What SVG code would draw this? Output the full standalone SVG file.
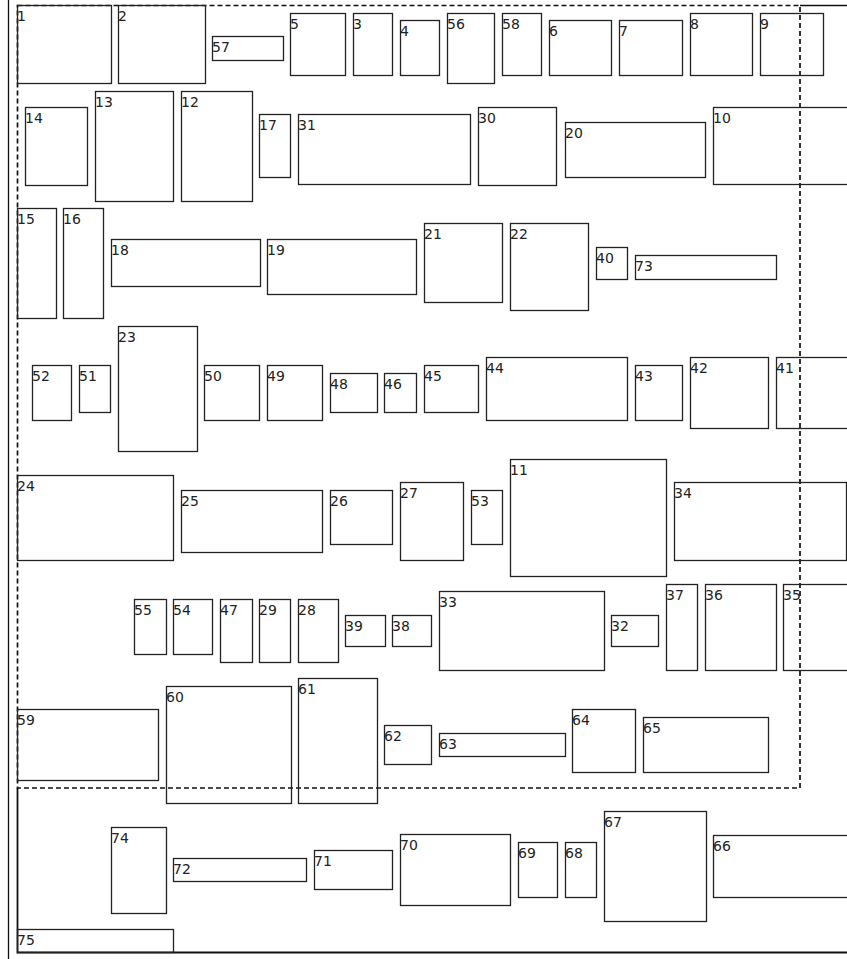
<svg xmlns="http://www.w3.org/2000/svg" width="847" height="959" viewBox="0 0 847 959">
<style>
.b{fill:none;stroke:#222;stroke-width:1.3}
.t{font-family:"DejaVu Sans","Liberation Sans",sans-serif;font-size:14px;fill:#222}
.f{fill:none;stroke:#111;stroke-width:1.3}
.d{fill:none;stroke:#111;stroke-width:1.7;stroke-dasharray:5 3}
</style>
<rect width="847" height="959" fill="#fff"/>
<g id="frame">
<line class="f" x1="8.5" y1="0" x2="8.5" y2="959"/>
<line class="f" x1="800" y1="5.5" x2="847" y2="5.5"/>
<polyline class="f" points="17.5,788 17.5,952.5 847,952.5" style="stroke-width:1.8"/>
<rect class="d" x="17.5" y="5.5" width="782.5" height="782.5"/>
</g>
<g id="connectors"/>
<g id="n1"><rect class="b" x="17.5" y="5.5" width="94" height="78"/><text class="t" x="17" y="21">1</text></g>
<g id="n2"><rect class="b" x="118.5" y="5.5" width="87" height="78"/><text class="t" x="118" y="21">2</text></g>
<g id="n57"><rect class="b" x="212.5" y="36.5" width="71" height="24"/><text class="t" x="212" y="52">57</text></g>
<g id="n5"><rect class="b" x="290.5" y="13.5" width="55" height="62"/><text class="t" x="290" y="29">5</text></g>
<g id="n3"><rect class="b" x="353.5" y="13.5" width="39" height="62"/><text class="t" x="353" y="29">3</text></g>
<g id="n4"><rect class="b" x="400.5" y="20.5" width="39" height="55"/><text class="t" x="400" y="36">4</text></g>
<g id="n56"><rect class="b" x="447.5" y="13.5" width="47" height="70"/><text class="t" x="447" y="29">56</text></g>
<g id="n58"><rect class="b" x="502.5" y="13.5" width="39" height="62"/><text class="t" x="502" y="29">58</text></g>
<g id="n6"><rect class="b" x="549.5" y="20.5" width="62" height="55"/><text class="t" x="549" y="36">6</text></g>
<g id="n7"><rect class="b" x="619.5" y="20.5" width="63" height="55"/><text class="t" x="619" y="36">7</text></g>
<g id="n8"><rect class="b" x="690.5" y="13.5" width="62" height="62"/><text class="t" x="690" y="29">8</text></g>
<g id="n9"><rect class="b" x="760.5" y="13.5" width="63" height="62"/><text class="t" x="760" y="29">9</text></g>
<g id="n14"><rect class="b" x="25.5" y="107.5" width="62" height="78"/><text class="t" x="25" y="123">14</text></g>
<g id="n13"><rect class="b" x="95.5" y="91.5" width="78" height="110"/><text class="t" x="95" y="107">13</text></g>
<g id="n12"><rect class="b" x="181.5" y="91.5" width="71" height="110"/><text class="t" x="181" y="107">12</text></g>
<g id="n17"><rect class="b" x="259.5" y="114.5" width="31" height="63"/><text class="t" x="259" y="130">17</text></g>
<g id="n31"><rect class="b" x="298.5" y="114.5" width="172" height="70"/><text class="t" x="298" y="130">31</text></g>
<g id="n30"><rect class="b" x="478.5" y="107.5" width="78" height="78"/><text class="t" x="478" y="123">30</text></g>
<g id="n20"><rect class="b" x="565.5" y="122.5" width="140" height="55"/><text class="t" x="565" y="138">20</text></g>
<g id="n10"><rect class="b" x="713.5" y="107.5" width="140" height="77"/><text class="t" x="713" y="123">10</text></g>
<g id="n15"><rect class="b" x="17.5" y="208.5" width="39" height="110"/><text class="t" x="17" y="224">15</text></g>
<g id="n16"><rect class="b" x="63.5" y="208.5" width="40" height="110"/><text class="t" x="63" y="224">16</text></g>
<g id="n18"><rect class="b" x="111.5" y="239.5" width="149" height="47"/><text class="t" x="111" y="255">18</text></g>
<g id="n19"><rect class="b" x="267.5" y="239.5" width="149" height="55"/><text class="t" x="267" y="255">19</text></g>
<g id="n21"><rect class="b" x="424.5" y="223.5" width="78" height="79"/><text class="t" x="424" y="239">21</text></g>
<g id="n22"><rect class="b" x="510.5" y="223.5" width="78" height="87"/><text class="t" x="510" y="239">22</text></g>
<g id="n40"><rect class="b" x="596.5" y="247.5" width="31" height="32"/><text class="t" x="596" y="263">40</text></g>
<g id="n73"><rect class="b" x="635.5" y="255.5" width="141" height="24"/><text class="t" x="635" y="271">73</text></g>
<g id="n52"><rect class="b" x="32.5" y="365.5" width="39" height="55"/><text class="t" x="32" y="381">52</text></g>
<g id="n51"><rect class="b" x="79.5" y="365.5" width="31" height="47"/><text class="t" x="79" y="381">51</text></g>
<g id="n23"><rect class="b" x="118.5" y="326.5" width="79" height="125"/><text class="t" x="118" y="342">23</text></g>
<g id="n50"><rect class="b" x="204.5" y="365.5" width="55" height="55"/><text class="t" x="204" y="381">50</text></g>
<g id="n49"><rect class="b" x="267.5" y="365.5" width="55" height="55"/><text class="t" x="267" y="381">49</text></g>
<g id="n48"><rect class="b" x="330.5" y="373.5" width="47" height="39"/><text class="t" x="330" y="389">48</text></g>
<g id="n46"><rect class="b" x="384.5" y="373.5" width="32" height="39"/><text class="t" x="384" y="389">46</text></g>
<g id="n45"><rect class="b" x="424.5" y="365.5" width="54" height="47"/><text class="t" x="424" y="381">45</text></g>
<g id="n44"><rect class="b" x="486.5" y="357.5" width="141" height="63"/><text class="t" x="486" y="373">44</text></g>
<g id="n43"><rect class="b" x="635.5" y="365.5" width="47" height="55"/><text class="t" x="635" y="381">43</text></g>
<g id="n42"><rect class="b" x="690.5" y="357.5" width="78" height="71"/><text class="t" x="690" y="373">42</text></g>
<g id="n41"><rect class="b" x="776.5" y="357.5" width="80" height="71"/><text class="t" x="776" y="373">41</text></g>
<g id="n24"><rect class="b" x="17.5" y="475.5" width="156" height="85"/><text class="t" x="17" y="491">24</text></g>
<g id="n25"><rect class="b" x="181.5" y="490.5" width="141" height="62"/><text class="t" x="181" y="506">25</text></g>
<g id="n26"><rect class="b" x="330.5" y="490.5" width="62" height="54"/><text class="t" x="330" y="506">26</text></g>
<g id="n27"><rect class="b" x="400.5" y="482.5" width="63" height="78"/><text class="t" x="400" y="498">27</text></g>
<g id="n53"><rect class="b" x="471.5" y="490.5" width="31" height="54"/><text class="t" x="471" y="506">53</text></g>
<g id="n11"><rect class="b" x="510.5" y="459.5" width="156" height="117"/><text class="t" x="510" y="475">11</text></g>
<g id="n34"><rect class="b" x="674.5" y="482.5" width="172" height="78"/><text class="t" x="674" y="498">34</text></g>
<g id="n55"><rect class="b" x="134.5" y="599.5" width="32" height="55"/><text class="t" x="134" y="615">55</text></g>
<g id="n54"><rect class="b" x="173.5" y="599.5" width="39" height="55"/><text class="t" x="173" y="615">54</text></g>
<g id="n47"><rect class="b" x="220.5" y="599.5" width="32" height="63"/><text class="t" x="220" y="615">47</text></g>
<g id="n29"><rect class="b" x="259.5" y="599.5" width="31" height="63"/><text class="t" x="259" y="615">29</text></g>
<g id="n28"><rect class="b" x="298.5" y="599.5" width="40" height="63"/><text class="t" x="298" y="615">28</text></g>
<g id="n39"><rect class="b" x="345.5" y="615.5" width="40" height="31"/><text class="t" x="345" y="631">39</text></g>
<g id="n38"><rect class="b" x="392.5" y="615.5" width="39" height="31"/><text class="t" x="392" y="631">38</text></g>
<g id="n33"><rect class="b" x="439.5" y="591.5" width="165" height="79"/><text class="t" x="439" y="607">33</text></g>
<g id="n32"><rect class="b" x="611.5" y="615.5" width="47" height="31"/><text class="t" x="611" y="631">32</text></g>
<g id="n37"><rect class="b" x="666.5" y="584.5" width="31" height="86"/><text class="t" x="666" y="600">37</text></g>
<g id="n36"><rect class="b" x="705.5" y="584.5" width="71" height="86"/><text class="t" x="705" y="600">36</text></g>
<g id="n35"><rect class="b" x="783.5" y="584.5" width="70" height="86"/><text class="t" x="783" y="600">35</text></g>
<g id="n59"><rect class="b" x="17.5" y="709.5" width="141" height="71"/><text class="t" x="17" y="725">59</text></g>
<g id="n60"><rect class="b" x="166.5" y="686.5" width="125" height="117"/><text class="t" x="166" y="702">60</text></g>
<g id="n61"><rect class="b" x="298.5" y="678.5" width="79" height="125"/><text class="t" x="298" y="694">61</text></g>
<g id="n62"><rect class="b" x="384.5" y="725.5" width="47" height="39"/><text class="t" x="384" y="741">62</text></g>
<g id="n63"><rect class="b" x="439.5" y="733.5" width="126" height="23"/><text class="t" x="439" y="749">63</text></g>
<g id="n64"><rect class="b" x="572.5" y="709.5" width="63" height="63"/><text class="t" x="572" y="725">64</text></g>
<g id="n65"><rect class="b" x="643.5" y="717.5" width="125" height="55"/><text class="t" x="643" y="733">65</text></g>
<g id="n74"><rect class="b" x="111.5" y="827.5" width="55" height="86"/><text class="t" x="111" y="843">74</text></g>
<g id="n72"><rect class="b" x="173.5" y="858.5" width="133" height="23"/><text class="t" x="173" y="874">72</text></g>
<g id="n71"><rect class="b" x="314.5" y="850.5" width="78" height="39"/><text class="t" x="314" y="866">71</text></g>
<g id="n70"><rect class="b" x="400.5" y="834.5" width="110" height="71"/><text class="t" x="400" y="850">70</text></g>
<g id="n69"><rect class="b" x="518.5" y="842.5" width="39" height="55"/><text class="t" x="518" y="858">69</text></g>
<g id="n68"><rect class="b" x="565.5" y="842.5" width="31" height="55"/><text class="t" x="565" y="858">68</text></g>
<g id="n67"><rect class="b" x="604.5" y="811.5" width="102" height="110"/><text class="t" x="604" y="827">67</text></g>
<g id="n66"><rect class="b" x="713.5" y="835.5" width="140" height="62"/><text class="t" x="713" y="851">66</text></g>
<g id="n75"><rect class="b" x="17.5" y="929.5" width="156" height="23"/><text class="t" x="17" y="945">75</text></g>
</svg>
